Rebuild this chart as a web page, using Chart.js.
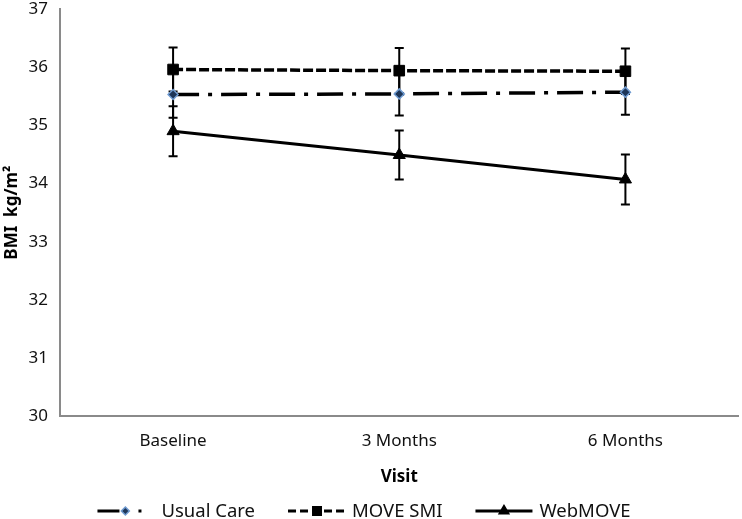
<!DOCTYPE html>
<html>
<head>
<meta charset="utf-8">
<title>BMI by visit</title>
<script src="https://cdn.jsdelivr.net/npm/chart.js@4.4.1/dist/chart.umd.min.js"></script>
<style>
  html, body { margin: 0; padding: 0; background: #fff; overflow: hidden; }
  /* a few px wider than the window so the x axis runs to the right edge */
  #wrap { width: 747px; height: 519px; position: relative; }
</style>
</head>
<body>
<div id="wrap"><canvas id="bmiChart"></canvas></div>
<script>
// values (mean BMI ± error bar half-length)
const visits = ["Baseline", "3 Months", "6 Months"];
const usualCare = [35.53, 35.54, 35.57];
const usualCareErr = [0.40, 0.37, 0.39];
const moveSmi = [35.96, 35.94, 35.93];
const moveSmiErr = [0.38, 0.39, 0.39];
const webMove = [34.90, 34.49, 34.07];
const webMoveErr = [0.43, 0.42, 0.43];
const yMin = 30, yMax = 37, yStep = 1;

const FONT = "'Noto Sans', 'DejaVu Sans', sans-serif";
const INK = "#000";
const AXIS = "#8a8a8a";

// vertical error bars with caps, drawn under the lines/markers
const errorBars = {
  id: "errorBars",
  beforeDatasetsDraw(chart) {
    const { ctx, scales: { x, y } } = chart;
    ctx.save();
    ctx.strokeStyle = INK;
    ctx.lineWidth = 2;
    chart.data.datasets.forEach((ds, i) => {
      if (!chart.isDatasetVisible(i) || !ds.errors) return;
      ds.data.forEach((v, j) => {
        const e = ds.errors[j];
        const px = x.getPixelForValue(j);
        const top = y.getPixelForValue(v + e), bot = y.getPixelForValue(v - e);
        ctx.beginPath();
        ctx.moveTo(px, top); ctx.lineTo(px, bot);
        ctx.moveTo(px - 4.5, top); ctx.lineTo(px + 4.5, top);
        ctx.moveTo(px - 4.5, bot); ctx.lineTo(px + 4.5, bot);
        ctx.stroke();
      });
    });
    ctx.restore();
  },
};

function marker(ctx, style, x, y, r, fill, stroke) {
  ctx.save();
  ctx.setLineDash([]);
  ctx.fillStyle = fill;
  ctx.strokeStyle = stroke;
  ctx.lineWidth = 1.5;
  ctx.beginPath();
  if (style === "rect") {
    const s = r * Math.SQRT1_2;
    ctx.rect(x - s, y - s, 2 * s, 2 * s);
  } else if (style === "triangle") {
    ctx.moveTo(x, y - r);
    ctx.lineTo(x + r * 0.866, y + r * 0.5);
    ctx.lineTo(x - r * 0.866, y + r * 0.5);
    ctx.closePath();
  } else {
    ctx.moveTo(x, y - r); ctx.lineTo(x + r, y); ctx.lineTo(x, y + r); ctx.lineTo(x - r, y);
    ctx.closePath();
  }
  ctx.fill();
  ctx.stroke();
  ctx.restore();
}

// Excel-style legend row under the axis title
const bottomLegend = {
  id: "bottomLegend",
  afterDraw(chart) {
    const { ctx } = chart;
    const sep = 33, cy = chart.height - 8;
    ctx.save();
    ctx.font = "18.5px " + FONT;
    ctx.textBaseline = "middle";
    const items = chart.data.datasets.map((ds) => ({
      ds, w: ctx.measureText(ds.label).width,
      iconW: ds.legendIconW || 56, gap: ds.legendGap || 6,
    }));
    const total = items.reduce((s, it) => s + it.iconW + it.gap + it.w, 0) + sep * (items.length - 1);
    let x = 364 - total / 2;
    for (const { ds, w, iconW, gap } of items) {
      ctx.strokeStyle = INK;
      ctx.lineWidth = 3;
      ctx.setLineDash(ds.legendDash || []);
      ctx.beginPath();
      ctx.moveTo(x, cy); ctx.lineTo(x + iconW, cy);
      ctx.stroke();
      marker(ctx, ds.pointStyle, x + iconW * (ds.legendMarkAt || 0.5), cy,
        ds.pointRadius * 0.8, ds.pointBackgroundColor, ds.pointBorderColor);
      ctx.fillStyle = "#111";
      ctx.fillText(ds.label, x + iconW + gap, cy + 1);
      x += iconW + gap + w + sep;
    }
    ctx.restore();
  },
};

new Chart(document.getElementById("bmiChart"), {
  type: "line",
  data: {
    labels: visits,
    datasets: [
      {
        label: "Usual Care", data: usualCare, errors: usualCareErr,
        borderColor: INK, borderWidth: 3.5, borderDash: [26, 9, 4, 9],
        pointStyle: "rectRot", pointRadius: 5, pointBackgroundColor: "#1d3557",
        pointBorderColor: "#6f9bd1", pointBorderWidth: 1.5,
        legendDash: [22, 19, 3, 50], legendMarkAt: 0.62, legendIconW: 45, legendGap: 19,
      },
      {
        label: "MOVE SMI", data: moveSmi, errors: moveSmiErr,
        borderColor: INK, borderWidth: 3.5, borderDash: [10, 3],
        pointStyle: "rect", pointRadius: 7.5, pointBackgroundColor: INK,
        pointBorderColor: INK, pointBorderWidth: 1,
        legendDash: [8, 4], legendIconW: 58,
      },
      {
        label: "WebMOVE", data: webMove, errors: webMoveErr,
        borderColor: INK, borderWidth: 3,
        pointStyle: "triangle", pointRadius: 7, pointBackgroundColor: INK,
        pointBorderColor: INK, pointBorderWidth: 1,
        legendIconW: 57, legendGap: 7,
      },
    ],
  },
  options: {
    responsive: true, maintainAspectRatio: false, animation: false,
    layout: { padding: { top: 9, right: 2, bottom: 26, left: 0 } },
    plugins: { legend: { display: false }, tooltip: { enabled: false } },
    scales: {
      x: {
        offset: true,
        grid: { display: false, drawTicks: false },
        border: { display: true, color: AXIS, width: 2 },
        ticks: { color: "#111", font: { family: FONT, size: 17 }, padding: 15 },
        title: { display: true, text: "Visit", color: INK,
          font: { family: FONT, size: 17, weight: "bold" }, padding: { top: 0, bottom: 6 } },
      },
      y: {
        min: yMin, max: yMax,
        grid: { display: false, drawTicks: false },
        border: { display: true, color: AXIS, width: 2 },
        ticks: { stepSize: yStep, color: "#111", font: { family: FONT, size: 17 }, padding: 12 },
        title: { display: true, text: "BMI  kg/m²", color: INK,
          font: { family: FONT, size: 17, weight: "bold" }, padding: { top: 2, bottom: 0 } },
        afterFit: (s) => { s.width = 60; s.paddingTop = 0; s.paddingBottom = 0; },
      },
    },
  },
  plugins: [errorBars, bottomLegend],
});
</script>
</body>
</html>
